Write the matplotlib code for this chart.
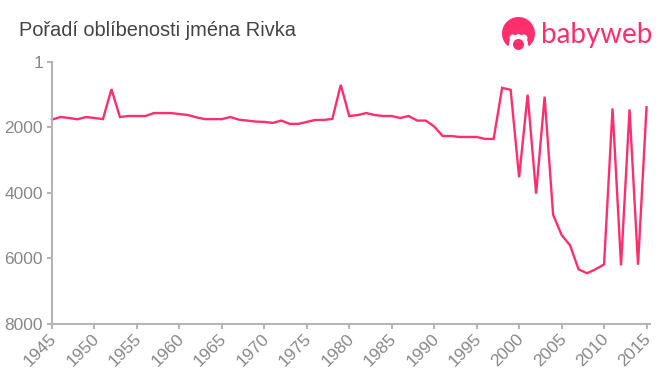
import matplotlib
matplotlib.use('Agg')
import matplotlib.pyplot as plt
from matplotlib.patches import Circle, Wedge
from matplotlib.transforms import ScaledTranslation

W, H = 660, 375
pink = '#ff2e6c'
grey = '#888888'

years = list(range(1945, 2016))
ranks = [1760, 1680, 1710, 1750, 1680, 1710, 1745, 830, 1680, 1650,
         1650, 1650, 1560, 1560, 1560, 1590, 1620, 1690, 1745, 1745,
         1745, 1680, 1760, 1790, 1820, 1830, 1860, 1790, 1890, 1890,
         1830, 1770, 1770, 1740, 700, 1650, 1620, 1560, 1620, 1650,
         1650, 1710, 1650, 1790, 1790, 1970, 2260, 2260, 2290, 2290,
         2290, 2350, 2350, 790, 850, 3520, 1000, 4020, 1060, 4660,
         5280, 5600, 6330, 6450, 6330, 6180, 1420, 6210, 1450, 6190,
         1380]
xticks = list(range(1945, 2016, 5))
yticks = [1, 2000, 4000, 6000, 8000]

plt.rcParams['font.family'] = ['Liberation Sans', 'DejaVu Sans']

fig = plt.figure(figsize=(W / 100, H / 100), dpi=100)
ax = fig.add_axes([52 / W, 1 - 324 / H, (649.5 - 52) / W, (324 - 62) / H])
ax.plot(years, ranks, color=pink, lw=1.7, solid_joinstyle='miter', clip_on=False)

ax.set_xlim(1945, 2015.35)
ax.set_ylim(8000, 1)
ax.set_xticks(xticks)
ax.set_yticks(yticks)
ax.set_xticklabels([str(y) for y in xticks], rotation=45, ha='right',
                   rotation_mode='anchor', fontsize=12.5, color=grey)
ax.set_yticklabels([str(y) for y in yticks], fontsize=12.5, color=grey)
ax.tick_params(axis='both', length=3.5, width=1.5, color='#b5b5b5', pad=3)
ax.spines['top'].set_visible(False)
ax.spines['right'].set_visible(False)
ax.spines['left'].set_color('#b5b5b5')
ax.spines['bottom'].set_color('#b5b5b5')
ax.spines['left'].set_linewidth(1.5)
ax.spines['bottom'].set_linewidth(1.5)

# pull the rotated year labels back under their ticks
shift = ScaledTranslation(-3 / 100, 2 / 100, fig.dpi_scale_trans)
for lab in ax.get_xticklabels():
    lab.set_transform(lab.get_transform() + shift)

fig.text(19 / W, 1 - 30 / H, 'Pořadí oblíbenosti jména Rivka', fontsize=14.4,
         color='#444444', va='center', ha='left')

# logo
logo = fig.add_axes([0, 0, 1, 1], facecolor='none')
logo.set_xlim(0, W)
logo.set_ylim(H, 0)
logo.axis('off')
logo.add_patch(Wedge((518.5, 33.5), 16.5, 130, 50, color=pink, lw=0))
logo.add_patch(Circle((518.5, 44), 9.5, color='white', lw=0))
logo.add_patch(Circle((513, 38), 3.5, color='white', lw=0))
logo.add_patch(Circle((524, 38), 3.5, color='white', lw=0))
logo.add_patch(Circle((518.5, 44.5), 5.5, color=pink, lw=0))
logo.text(541, 34.5, 'babyweb', fontsize=20, color=pink, va='center', ha='left',
          family=['Lato', 'DejaVu Sans'])

fig.savefig('out.png', dpi=100)
